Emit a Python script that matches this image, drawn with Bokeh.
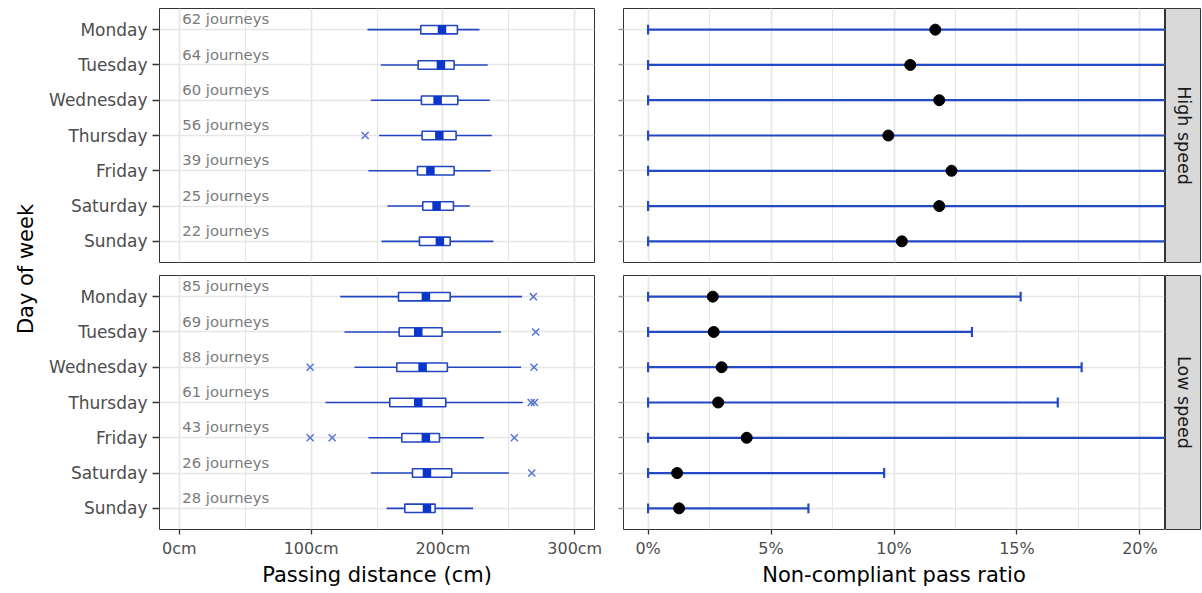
import math
from bokeh.plotting import figure
from bokeh.layouts import row, column
from bokeh.models import Range1d, FixedTicker, Label, PrintfTickFormatter, NumeralTickFormatter, CustomJSTickFormatter
from bokeh.embed import file_html
from bokeh.resources import INLINE
from bokeh.core.properties import value

# ---------------- data ----------------
days = ["Monday", "Tuesday", "Wednesday", "Thursday", "Friday", "Saturday", "Sunday"]
strips = ["High speed", "Low speed"]

journeys_high = [62, 64, 60, 56, 39, 25, 22]
journeys_low = [85, 69, 88, 61, 43, 26, 28]

# passing distance box stats (cm)
high_wlo = [142.8, 152.9, 145.3, 151.6, 143.5, 157.9, 153.4]
high_q1 = [183.2, 181.2, 183.7, 184.2, 180.7, 184.7, 182.2]
high_med = [199.3, 198.5, 196.0, 197.3, 190.5, 195.2, 197.7]
high_q3 = [211.0, 208.5, 211.3, 210.0, 208.5, 208.0, 205.5]
high_whi = [227.7, 234.0, 235.5, 237.1, 236.3, 220.4, 238.3]
high_out_day = ["Thursday"]
high_out_val = [141.0]

low_wlo = [122.1, 125.3, 132.9, 110.9, 143.5, 145.3, 157.2]
low_q1 = [166.3, 166.8, 165.0, 159.7, 168.8, 176.9, 171.1]
low_med = [187.1, 181.3, 184.6, 181.3, 187.1, 187.9, 187.9]
low_q3 = [205.5, 199.4, 203.4, 202.2, 197.4, 206.7, 194.1]
low_whi = [260.0, 244.1, 259.3, 260.6, 231.0, 250.0, 222.9]
low_out_day = ["Monday", "Tuesday", "Wednesday", "Wednesday", "Thursday", "Thursday",
               "Friday", "Friday", "Friday", "Saturday"]
low_out_val = [268.6, 270.4, 99.3, 269.1, 267.0, 269.5, 99.3, 116.0, 254.2, 267.4]

# non-compliant pass ratio with interval
ratio_high = [0.1168, 0.1066, 0.1184, 0.0977, 0.1234, 0.1184, 0.1032]
ratio_high_lo = [0.0, 0.0, 0.0, 0.0, 0.0, 0.0, 0.0]
ratio_high_hi = [0.26, 0.25, 0.27, 0.24, 0.29, 0.33, 0.31]
ratio_low = [0.0263, 0.0267, 0.0299, 0.0285, 0.0401, 0.0118, 0.0126]
ratio_low_lo = [0.0, 0.0, 0.0, 0.0, 0.0, 0.0, 0.0]
ratio_low_hi = [0.1515, 0.1317, 0.1763, 0.1666, 0.2300, 0.0960, 0.0652]

dist_ticks = [0, 100, 200, 300]
dist_minor = [50, 150, 250]
ratio_ticks = [0.0, 0.05, 0.10, 0.15, 0.20]
ratio_minor = [0.025, 0.075, 0.125, 0.175]

# ---------------- style ----------------
FONT = "DejaVu Sans"
BOX = "#2246c0"
MED = "#0a36c9"
OUT = "#5674d2"
EBAR = "#2449c4"
GRID = "#e6e6e6"
BORDER = "#333333"

TOP_H = 268
BOT_H = 322

ypos = [days.index(d) + 1 for d in days]


def borders(top_row):
    return dict(min_border_top=8 if top_row else 7,
                min_border_bottom=6 if top_row else 61)


def base(width, xr, top_row, mb_left, mb_right):
    p = figure(width=width, height=TOP_H if top_row else BOT_H, x_range=xr,
               y_range=Range1d(7.6, 0.4),
               output_backend="svg", toolbar_location=None,
               min_border_left=mb_left, min_border_right=mb_right, **borders(top_row))
    p.outline_line_color = BORDER
    p.outline_line_width = 1
    p.background_fill_color = "white"
    p.border_fill_color = "white"
    p.ygrid.ticker = FixedTicker(ticks=ypos)
    p.ygrid.grid_line_color = GRID
    p.ygrid.grid_line_width = 1.7
    p.xgrid.grid_line_color = GRID
    p.xgrid.grid_line_width = 1.7
    p.xgrid.minor_grid_line_color = GRID
    p.xgrid.minor_grid_line_width = 1.1
    p.yaxis.ticker = FixedTicker(ticks=ypos)
    p.yaxis.axis_line_color = None
    p.yaxis.major_tick_in = 0
    p.yaxis.major_tick_out = 7
    p.yaxis.major_tick_line_color = BORDER
    p.yaxis.major_tick_line_width = 1.3
    p.yaxis.minor_tick_line_color = None
    p.xaxis.axis_line_color = None
    p.xaxis.major_tick_in = 0
    p.xaxis.major_tick_out = 5
    p.xaxis.major_tick_line_color = BORDER
    p.xaxis.major_tick_line_width = 1.3
    p.xaxis.minor_tick_line_color = None
    p.xaxis.major_label_text_font = FONT
    p.xaxis.major_label_text_font_size = "16px"
    p.xaxis.major_label_text_color = "#4d4d4d"
    p.xaxis.major_label_standoff = 4
    p.xaxis.axis_label_text_font = FONT
    p.xaxis.axis_label_text_font_size = "21px"
    p.xaxis.axis_label_text_font_style = "normal"
    p.xaxis.axis_label_text_color = "black"
    p.xaxis.axis_label_standoff = 2
    if top_row:
        p.xaxis.visible = False
    return p


def left_panel(top_row, wlo, q1, med, q3, whi, out_day, out_val, journeys):
    p = base(562, Range1d(-15, 315), top_row, 113, 14)
    p.xgrid.ticker = FixedTicker(ticks=dist_ticks, minor_ticks=dist_minor)
    p.xaxis.ticker = FixedTicker(ticks=dist_ticks)
    p.xaxis.formatter = PrintfTickFormatter(format="%dcm")
    p.xaxis.axis_label = "Passing distance (cm)"
    p.yaxis.formatter = CustomJSTickFormatter(args=dict(names=days),
                                              code="return names[Math.round(tick) - 1];")
    p.yaxis.major_label_text_font = FONT
    p.yaxis.major_label_text_font_size = "17px"
    p.yaxis.major_label_text_color = "#4d4d4d"
    p.yaxis.major_label_standoff = 5

    p.segment(x0=wlo, x1=whi, y0=ypos, y1=ypos, line_color=BOX, line_width=1.6)
    p.quad(left=q1, right=q3, top=[y - 0.12 for y in ypos], bottom=[y + 0.12 for y in ypos],
           fill_color="white", line_color=BOX, line_width=1.6)
    p.scatter(x=med, y=ypos, marker="square", size=8.5, fill_color=MED, line_color=None)
    p.scatter(x=out_val, y=[days.index(d) + 1 for d in out_day], marker="x", size=10,
              line_color=OUT, line_width=1.5)
    p.text(x=[0 for _ in journeys], y=[y - 0.31 for y in ypos],
           text=[f"{n} journeys" for n in journeys], x_offset=3,
           text_font=value(FONT), text_font_size=value("14.8px"), text_color="#7a7a7a",
           text_align="left", text_baseline="middle")
    return p


def right_panel(top_row, ratio, lo, hi):
    p = base(557, Range1d(-0.01, 0.21), top_row, 15, 1)
    p.xgrid.ticker = FixedTicker(ticks=ratio_ticks, minor_ticks=ratio_minor)
    p.xaxis.ticker = FixedTicker(ticks=ratio_ticks)
    p.xaxis.formatter = NumeralTickFormatter(format="0%")
    p.xaxis.axis_label = "Non-compliant pass ratio"
    p.yaxis.formatter = CustomJSTickFormatter(code="return '';")
    p.yaxis.major_label_text_font_size = "0px"
    p.yaxis.major_label_standoff = 0
    p.yaxis.major_tick_out = 5
    p.yaxis.major_tick_line_color = "#9a9a9a"

    p.segment(x0=lo, x1=hi, y0=ypos, y1=ypos, line_color=EBAR, line_width=2.2)
    p.segment(x0=lo, x1=lo, y0=[y - 0.14 for y in ypos], y1=[y + 0.14 for y in ypos],
              line_color=EBAR, line_width=2.2)
    p.segment(x0=hi, x1=hi, y0=[y - 0.14 for y in ypos], y1=[y + 0.14 for y in ypos],
              line_color=EBAR, line_width=2.2)
    p.scatter(x=ratio, y=ypos, size=11, fill_color="black", line_color="black")
    return p


def strip(top_row, label):
    s = figure(width=36, height=TOP_H if top_row else BOT_H,
               x_range=Range1d(0, 1), y_range=Range1d(0, 1),
               output_backend="svg", toolbar_location=None,
               min_border_left=0, min_border_right=0, **borders(top_row))
    s.axis.visible = False
    s.grid.visible = False
    s.background_fill_color = "#d9d9d9"
    s.border_fill_color = "white"
    s.outline_line_color = BORDER
    s.outline_line_width = 1
    s.text(x=[0.5], y=[0.5], text=[label], angle=-math.pi / 2,
           text_font=value(FONT), text_font_size=value("17.5px"), text_color="#1a1a1a",
           text_align="center", text_baseline="middle")
    return s


tl = left_panel(True, high_wlo, high_q1, high_med, high_q3, high_whi, high_out_day, high_out_val, journeys_high)
bl = left_panel(False, low_wlo, low_q1, low_med, low_q3, low_whi, low_out_day, low_out_val, journeys_low)
tr = right_panel(True, ratio_high, ratio_high_lo, ratio_high_hi)
br = right_panel(False, ratio_low, ratio_low_lo, ratio_low_hi)
s1 = strip(True, strips[0])
s2 = strip(False, strips[1])

ylab = figure(width=46, height=TOP_H + BOT_H, x_range=Range1d(0, 1), y_range=Range1d(0, 1),
              output_backend="svg", toolbar_location=None,
              min_border_left=0, min_border_right=0, min_border_top=0, min_border_bottom=0)
ylab.axis.visible = False
ylab.grid.visible = False
ylab.outline_line_color = None
ylab.background_fill_color = "white"
ylab.border_fill_color = "white"
ylab.add_layout(Label(x=25, y=TOP_H + BOT_H - 268.5, x_units="screen", y_units="screen",
                      text="Day of week", angle=math.pi / 2, text_font=FONT,
                      text_font_size="21px", text_color="black",
                      text_align="center", text_baseline="middle"))

layout = row(ylab, column(row(tl, tr, s1), row(bl, br, s2)))

open("out.html", "w").write(file_html(layout, INLINE))
